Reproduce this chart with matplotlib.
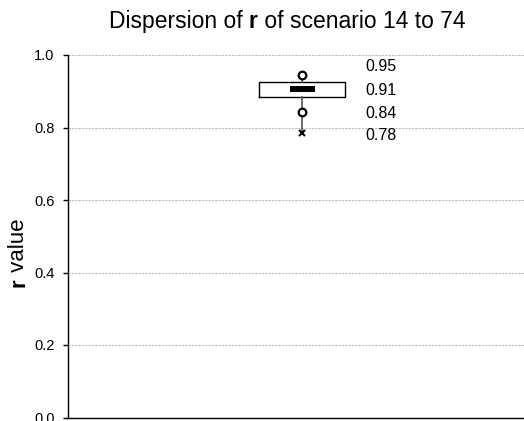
import matplotlib
matplotlib.use("Agg")
import matplotlib.pyplot as plt

# data
q1, median, q3 = 0.885, 0.907, 0.925
whisker_low, whisker_high = 0.784, 0.945
circle_points = [0.945, 0.844]
cross_points = [0.784]
label_values = [0.95, 0.91, 0.84, 0.78]
label_positions = [0.967, 0.903, 0.840, 0.779]
yticks = [0.0, 0.2, 0.4, 0.6, 0.8, 1.0]

plt.rcParams['font.family'] = ['Liberation Sans', 'DejaVu Sans']
W, H = 524, 421
fig = plt.figure(figsize=(W/100, H/100), dpi=100)
ax = fig.add_axes([68/W, 3.5/H, 1 - 68/W, (417.5-55)/H])

stats = [dict(med=median, q1=q1, q3=q3, whislo=whisker_low, whishi=whisker_high, fliers=[])]
ax.bxp(stats, positions=[1], widths=0.368, showcaps=False, showfliers=False,
       boxprops=dict(color='black', linewidth=1.0),
       whiskerprops=dict(color='#555555', linewidth=1.2),
       medianprops=dict(linewidth=0), zorder=3)
ax.plot([1], [median], marker='_', markersize=18, markeredgewidth=4.3, color='black', zorder=4)
ax.plot([1]*len(circle_points), circle_points, 'o', markersize=5.5, markerfacecolor='white',
        markeredgecolor='black', markeredgewidth=1.6, zorder=5, linestyle='none')
ax.plot([1]*len(cross_points), cross_points, 'x', markersize=5, markeredgecolor='black',
        markeredgewidth=1.5, zorder=5, linestyle='none')
for v, p in zip(label_values, label_positions):
    ax.text(1.27, p, f"{v:.2f}", fontsize=11.5, va='center', ha='left')

ax.set_xlim(0, 1.95)
ax.set_ylim(0, 1.0)
ax.set_yticks(yticks)
ax.set_yticklabels([f"{t:.1f}" for t in yticks], fontsize=10.5)
ax.set_xticks([])
ax.yaxis.grid(True, color='#bbbbbb', linestyle=(0, (2, 1)), linewidth=0.8)
ax.set_axisbelow(True)
for s in ['top', 'right']:
    ax.spines[s].set_visible(False)
ax.spines['left'].set_linewidth(1.0)
ax.spines['bottom'].set_linewidth(1.0)
ax.tick_params(axis='y', length=3.6, width=1, pad=6)

fig.canvas.draw()
renderer = fig.canvas.get_renderer()

# y label with bold r (rotated, reading bottom to top)
ylab_parts = [("r", 'bold'), (" value", 'normal')]
ytexts = [fig.text(19/W, 0, s, fontsize=16, fontweight=w, rotation=90,
                   va='center', ha='left', rotation_mode='anchor') for s, w in ylab_parts]
ylens = [t.get_window_extent(renderer).height for t in ytexts]
ycenter = 253
y = ycenter + sum(ylens) / 2  # bottom, in pixels from top
for t, L in zip(ytexts, ylens):
    t.set_y((H - y) / H)
    y -= L

# title with bold r
title_parts = [("Dispersion of ", 'normal'), ("r", 'bold'), (" of scenario 14 to 74", 'normal')]
texts = [fig.text(0, (H - 28) / H, s, fontsize=16.5, fontweight=w, va='baseline', ha='left')
         for s, w in title_parts]
widths = [t.get_window_extent(renderer).width for t in texts]
x = 287 - sum(widths) / 2
for t, w in zip(texts, widths):
    t.set_x(x / W)
    x += w
fig.savefig("out.png", dpi=100)
